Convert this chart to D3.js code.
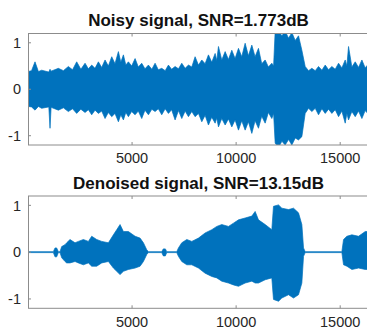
<!DOCTYPE html>
<html>
<head>
<meta charset="utf-8">
<script src="https://cdn.jsdelivr.net/npm/d3@7"></script>
<style>
  html, body { margin: 0; padding: 0; background: #fff; }
  svg { display: block; font-family: "Liberation Sans", Arial, Helvetica, sans-serif; }
</style>
</head>
<body>
<svg id="chart" width="367" height="329"></svg>
<script>
// noisy signal: envelope (peaks and the dips between them)
const noisySamples = [
  0, 170, 337, 500, 657, 1000, 1058, 1110, 1458, 1700,
  1939, 2140, 2340, 2540, 2741, 2900, 3061, 3220, 3382, 3540,
  3702, 3860, 4023, 4180, 4343, 4460, 4584, 4700, 4824, 4980,
  5145, 5300, 5465, 5620, 5786, 5950, 6106, 6260, 6427, 6590,
  6747, 6900, 7068, 7230, 7388, 7550, 7709, 7870, 8029, 8190,
  8350, 8510, 8670, 8830, 8991, 9070, 9151, 9310, 9472, 9630,
  9792, 9950, 10113, 10270, 10433, 10590, 10754, 10910, 11074, 11230,
  11395, 11550, 11715, 11800, 11876, 12036, 12200, 12356, 12520, 12677,
  12840, 12997, 13158, 13318, 13480, 13639, 13800, 13959, 14120, 14280,
  14440, 14600, 14760, 14921, 15080, 15241, 15320, 15401, 15560, 15722,
  15880, 16043, 16200, 16384];
const noisyUpper = [
  0.38, 0.40, 0.59, 0.38, 0.41, 0.37, 0.43, 0.39, 0.45, 0.40,
  0.49, 0.42, 0.59, 0.43, 0.56, 0.44, 0.52, 0.45, 0.59, 0.47,
  0.63, 0.50, 0.70, 0.55, 0.81, 0.58, 0.74, 0.52, 0.59, 0.50,
  0.66, 0.48, 0.56, 0.44, 0.52, 0.43, 0.56, 0.42, 0.45, 0.40,
  0.52, 0.43, 0.49, 0.44, 0.56, 0.45, 0.52, 0.48, 0.70, 0.52,
  0.63, 0.55, 0.74, 0.58, 0.77, 0.62, 0.92, 0.63, 0.81, 0.64,
  0.84, 0.66, 0.88, 0.70, 0.99, 0.72, 0.95, 0.70, 0.88, 0.55,
  0.63, 0.48, 0.56, 0.50, 1.25, 1.25, 1.15, 1.25, 1.10, 1.22,
  1.05, 1.15, 0.84, 0.49, 0.40, 0.45, 0.40, 0.49, 0.41, 0.52,
  0.42, 0.49, 0.43, 0.56, 0.46, 0.63, 0.50, 0.92, 0.48, 0.59,
  0.47, 0.63, 0.46, 0.56];
const noisyLower = [
  -0.37, -0.38, -0.45, -0.37, -0.41, -0.38, -0.84, -0.39, -0.45, -0.40,
  -0.48, -0.42, -0.52, -0.43, -0.50, -0.44, -0.55, -0.45, -0.52, -0.47,
  -0.63, -0.50, -0.59, -0.52, -0.70, -0.55, -0.66, -0.50, -0.59, -0.48,
  -0.55, -0.47, -0.63, -0.45, -0.55, -0.43, -0.48, -0.42, -0.55, -0.42,
  -0.52, -0.44, -0.66, -0.46, -0.63, -0.47, -0.59, -0.48, -0.59, -0.52,
  -0.70, -0.56, -0.77, -0.60, -0.73, -0.62, -0.81, -0.63, -0.77, -0.64,
  -0.81, -0.66, -0.88, -0.68, -0.88, -0.70, -0.95, -0.68, -0.84, -0.58,
  -0.73, -0.50, -0.63, -0.52, -1.16, -1.25, -1.12, -1.20, -1.08, -1.20,
  -1.05, -1.09, -1.02, -0.52, -0.41, -0.48, -0.41, -0.55, -0.42, -0.52,
  -0.43, -0.52, -0.44, -0.59, -0.47, -0.73, -0.52, -0.66, -0.48, -0.59,
  -0.47, -0.63, -0.46, -0.55];

// denoised signal envelope
const cleanSamples = [0, 1218, 1298, 1378, 1458, 1539, 1619, 1779, 1859, 2019, 2260, 2420, 2660, 2901,
  3061, 3301, 3542, 3862, 4103, 4263, 4423, 4584, 4824, 5145, 5385, 5545, 5706, 5786, 6427, 6500,
  6600, 6667, 7148, 7228, 7388, 7629, 7869, 8190, 8510, 8831, 9071, 9311, 9632, 9872, 10113, 10433,
  10754, 10914, 11074, 11395, 11715, 11795, 12036, 12196, 12517, 12757, 12997, 13158, 13238, 13318,
  15081, 15161, 15321, 15562, 15882, 16203, 16384];
const cleanUpper = [0.01, 0.01, 0.09, 0.09, 0.01, 0.01, 0.12, 0.16, 0.20, 0.27, 0.20, 0.23, 0.27, 0.23,
  0.34, 0.27, 0.23, 0.20, 0.37, 0.48, 0.59, 0.44, 0.44, 0.34, 0.30, 0.20, 0.05, 0.01, 0.01, 0.07,
  0.07, 0.01, 0.01, 0.09, 0.20, 0.27, 0.23, 0.30, 0.41, 0.48, 0.55, 0.59, 0.55, 0.62, 0.69, 0.73,
  0.77, 0.87, 0.69, 0.59, 0.48, 0.98, 1.01, 0.94, 0.91, 0.94, 0.84, 0.59, 0.09, 0.01,
  0.01, 0.27, 0.34, 0.37, 0.34, 0.44, 0.44];
const cleanLower = [-0.01, -0.01, -0.10, -0.10, -0.01, -0.01, -0.12, -0.20, -0.23, -0.23, -0.20, -0.23, -0.27, -0.23,
  -0.30, -0.30, -0.23, -0.20, -0.34, -0.41, -0.48, -0.41, -0.37, -0.34, -0.30, -0.20, -0.05, -0.01, -0.01, -0.08,
  -0.08, -0.01, -0.01, -0.09, -0.20, -0.27, -0.27, -0.34, -0.45, -0.52, -0.55, -0.62, -0.66, -0.70, -0.73, -0.66,
  -0.62, -0.66, -0.66, -0.59, -0.55, -1.01, -1.05, -0.98, -0.91, -0.98, -0.91, -0.66, -0.09, -0.01,
  -0.01, -0.27, -0.30, -0.37, -0.34, -0.37, -0.37];

const xTicks = [5000, 10000, 15000];
const yTicks = [-1, 0, 1];
const titles = ['Noisy signal, SNR=1.773dB', 'Denoised signal, SNR=13.15dB'];

const blue = '#0072BD';
const axisColor = '#8c8c8c';
const textColor = '#262626';

const svg = d3.select('#chart');

const x = d3.scaleLinear().domain([0, 16384]).range([28, 369]);

const panels = [
  { top: 33.5, bottom: 145, titleY: 26, labelY: 163, title: titles[0],
    s: noisySamples, hi: noisyUpper, lo: noisyLower },
  { top: 196, bottom: 308.3, titleY: 189, labelY: 326.5, title: titles[1],
    s: cleanSamples, hi: cleanUpper, lo: cleanLower }
];

panels.forEach((p, i) => {
  const y = d3.scaleLinear().domain([-1.2, 1.2]).range([p.bottom, p.top]);
  const g = svg.append('g');

  g.append('clipPath').attr('id', 'clip' + i)
    .append('rect')
    .attr('x', x.range()[0]).attr('y', p.top)
    .attr('width', x.range()[1] - x.range()[0]).attr('height', p.bottom - p.top);

  const area = d3.area()
    .x(d => x(d.s))
    .y0(d => y(d.lo))
    .y1(d => y(d.hi));

  const rows = p.s.map((s, k) => ({ s: s, hi: p.hi[k], lo: p.lo[k] }));
  g.append('path')
    .datum(rows)
    .attr('clip-path', `url(#clip${i})`)
    .attr('fill', blue)
    .attr('stroke', blue)
    .attr('stroke-width', 0.7)
    .attr('stroke-linejoin', 'miter')
    .attr('d', area);

  // box
  g.append('rect')
    .attr('x', x.range()[0] + 0.5).attr('y', p.top)
    .attr('width', x.range()[1] - x.range()[0]).attr('height', p.bottom - p.top)
    .attr('fill', 'none')
    .attr('stroke', axisColor)
    .attr('stroke-width', 1);

  // inward ticks
  xTicks.forEach(t => {
    g.append('line').attr('x1', x(t)).attr('x2', x(t)).attr('y1', p.bottom).attr('y2', p.bottom - 3)
      .attr('stroke', axisColor);
    g.append('line').attr('x1', x(t)).attr('x2', x(t)).attr('y1', p.top).attr('y2', p.top + 3)
      .attr('stroke', axisColor);
  });
  yTicks.forEach(t => {
    g.append('line').attr('x1', x.range()[0]).attr('x2', x.range()[0] + 3).attr('y1', y(t)).attr('y2', y(t))
      .attr('stroke', axisColor);
  });

  g.selectAll('.xl').data(xTicks).enter().append('text')
    .attr('x', d => x(d))
    .attr('y', p.labelY)
    .attr('text-anchor', 'middle')
    .attr('font-size', 14.5)
    .attr('fill', textColor)
    .text(d => d);

  g.selectAll('.yl').data(yTicks).enter().append('text')
    .attr('x', 21)
    .attr('y', d => y(d))
    .attr('dy', '0.36em')
    .attr('text-anchor', 'end')
    .attr('font-size', 14.5)
    .attr('fill', textColor)
    .text(d => d);

  g.append('text')
    .attr('x', (x.range()[0] + x.range()[1]) / 2)
    .attr('y', p.titleY)
    .attr('text-anchor', 'middle')
    .attr('font-size', 17)
    .attr('font-weight', 'bold')
    .attr('fill', '#111')
    .text(p.title);
});
</script>
</body>
</html>
